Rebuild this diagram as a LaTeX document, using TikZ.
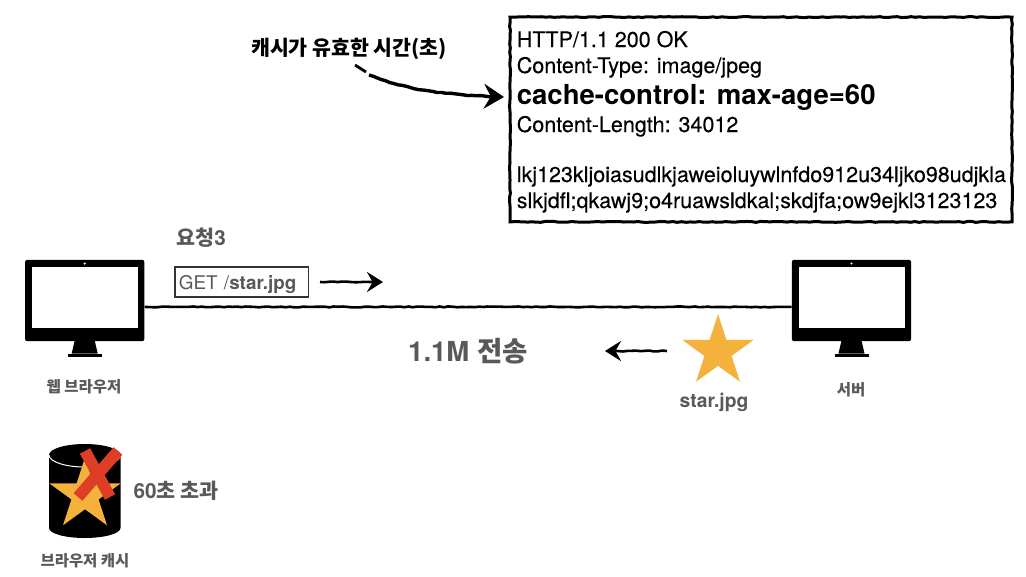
\documentclass[tikz,border=0pt]{standalone}
\usepackage{fontspec}
\setmainfont{TeX Gyre Heros}
\newfontfamily\krfont{Noto Sans CJK KR}
\newfontfamily\respfont[FakeBold=0.25]{TeX Gyre Heros}
\usepackage{tikz}
\usetikzlibrary{shapes.geometric,arrows.meta,positioning,calc,decorations.pathmorphing}
\usepackage{xcolor}
\definecolor{labelgray}{RGB}{89,89,89}
\definecolor{staryellow}{RGB}{244,178,60}
\definecolor{crossred}{RGB}{222,62,38}

\tikzset{
    pics/monitor/.style={code={
        \node[rectangle, fill=black, rounded corners=.5mm, minimum width=29.8mm, minimum height=20.3mm, inner sep=0] (frame) at (0,0) {};
        \node[rectangle, fill=white, minimum width=26.5mm, minimum height=15.2mm, inner sep=0] (screen) at (0,-3) {};
        \fill[white] (0,-37) circle (1.2);
        \fill[black] (-10,40) -- (10,40) -- (13,53) -- (-13,53) -- cycle;
        \fill[black] (-17,53) rectangle (17,56);
    }}
}

\begin{document}
\begin{tikzpicture}[
    x=.25mm, y=-.25mm,
    rough/.style={black, line width=.65mm, decorate,
                  decoration={random steps, segment length=1.1mm, amplitude=.12mm, post=lineto, post length=3mm}},
    arr/.style={rough, -{Stealth[length=4mm, width=5mm, inset=1.4mm]}},
    staricon/.style={star, star points=5, star point ratio=2.618, fill=staryellow, minimum size=18.7mm, inner sep=0},
    lbl/.style={text=labelgray, font=\krfont\bfseries\fontsize{11}{13}\selectfont, inner sep=0},
    biglbl/.style={text=labelgray, font=\bfseries\fontsize{14.7}{17}\selectfont, inner sep=0},
    resp/.style={anchor=base west, inner sep=0, text=black, font=\respfont\fontsize{15.3}{17}\selectfont}
]
    \useasboundingbox (0,0) rectangle (1026,576);

    % client and server
    \pic (browser) at (84.7,300.5) {monitor};
    \pic (server) at (851.5,300.5) {monitor};
    \node[lbl] (browserlbl) at (84,387) {웹 브라우저};
    \node[lbl] (serverlbl) at (851,390) {서버};
    \draw[rough] ([yshift=-1.6mm]browserframe.east) -- ([yshift=-1.6mm]serverframe.west);

    % request
    \node[biglbl] (reqlbl) at (201,238) {{\krfont 요청}3};
    \node[rectangle, draw=black!80, line width=.3mm, minimum height=7.5mm, inner xsep=1mm, inner ysep=0, text width=31.3mm, align=left,
          text height=3.5mm, text depth=0mm, text=labelgray,
          font=\fontsize{13.4}{15}\selectfont] (getbox) at (241.5,282) {GET /\textbf{star.jpg}};
    \coordinate (reqstart) at (320,282);
    \coordinate (reqend) at (383,282);
    \draw[arr] (reqstart) -- (reqend);

    % response
    \node[staricon] (imgstar) at (718,351.5) {};
    \node[biglbl, font=\bfseries\fontsize{13.7}{16}\selectfont] (imglbl) at (714,402) {star.jpg};
    \node[biglbl, font=\bfseries\fontsize{19.6}{22}\selectfont] (sizelbl) at (468,351) {1.1M {\krfont 전송}};
    \coordinate (backstart) at (667,351);
    \coordinate (backend) at (605,351);
    \draw[arr] (backstart) -- (backend);

    % response headers
    \node[rectangle, draw=black, rough, line width=.75mm, minimum width=125.5mm, minimum height=51.2mm, inner sep=0] (respbox) at (761,119.5) {};
    \node[resp] (line1) at (516.5,47) {HTTP/1.1 200 OK};
    \node[resp] (line2) at (516.5,73) {Content-Type: image/jpeg};
    \node[resp, font=\bfseries\fontsize{19.6}{22}\selectfont] (line3) at (516.5,104) {cache-control: max-age=60};
    \node[resp] (line4) at (516.5,132) {Content-Length: 34012};
    \node[resp] (line5) at (516.5,182) {lkj123kljoiasudlkjaweioluywlnfdo912u34ljko98udjkla};
    \node[resp] (line6) at (516.5,208) {slkjdfl;qkawj9;o4ruawsldkal;skdjfa;ow9ejkl3123123};

    % hint
    \node[lbl, text=black, font=\krfont\bfseries\fontsize{14.6}{17}\selectfont] (hint) at (349,49) {캐시가 유효한 시간(초)};
    \coordinate (hintdash) at (355,65);
    \coordinate (hintmid) at (366,72);
    \coordinate (hintstart) at (369,75);
    \coordinate (hintend) at (504,97);
    \draw[rough, line width=.7mm] (hintdash) -- (hintmid);
    \draw[arr, line width=.85mm, -{Stealth[length=5mm, width=6.2mm, inset=1.7mm]}] (hintstart) .. controls (400,88) and (440,95) .. (hintend);

    % browser cache
    \fill[black] (49,455) arc[start angle=180, end angle=360, x radius=35.75, y radius=11]
        -- (120.5,528) arc[start angle=0, end angle=180, x radius=35.75, y radius=10] -- cycle;
    \draw[white, line width=.25mm] (49,455) arc[start angle=180, end angle=0, x radius=35.75, y radius=12];
    \node[staricon] (cachestar) at (85,495) {};
    \draw[crossred, line width=2.9mm] (85,451) -- (110,497);
    \draw[crossred, line width=2.9mm] (118,451) -- (78,497);
    \node[biglbl] (expirelbl) at (176,491) {60{\krfont 초 초과}};
    \node[lbl] (cachelbl) at (85,561) {브라우저 캐시};
\end{tikzpicture}
\end{document}
